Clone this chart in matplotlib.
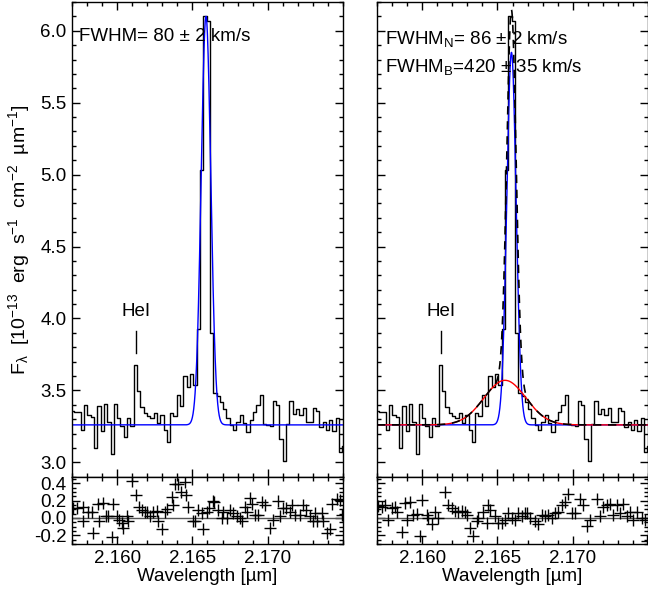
import numpy as np
import matplotlib
matplotlib.use('Agg')
from matplotlib import pyplot as plt
from matplotlib.ticker import MultipleLocator, FixedLocator

plt.rcParams['font.family'] = 'Liberation Sans'
plt.rcParams['mathtext.fontset'] = 'custom'
plt.rcParams['mathtext.rm'] = 'Liberation Sans'
plt.rcParams['mathtext.it'] = 'Liberation Sans:italic'
plt.rcParams['font.size'] = 13.5
plt.rcParams['axes.unicode_minus'] = False

# spectrum (bin centres in micron, flux in 1e-13 erg/s/cm2/um)
wave = [2.15703, 2.15725, 2.15747, 2.15769, 2.15791, 2.15813, 2.15835, 2.15857, 2.15879, 2.15901,
        2.15923, 2.15945, 2.15967, 2.15989, 2.16011, 2.16033, 2.16055, 2.16077, 2.16099, 2.16121,
        2.16143, 2.16165, 2.16187, 2.16209, 2.16231, 2.16253, 2.16275, 2.16297, 2.16319, 2.16341,
        2.16363, 2.16385, 2.16407, 2.16429, 2.16451, 2.16473, 2.16495, 2.16517, 2.16539, 2.16561,
        2.16583, 2.16605, 2.16627, 2.16649, 2.16671, 2.16693, 2.16715, 2.16737, 2.16759, 2.16781,
        2.16803, 2.16825, 2.16847, 2.16869, 2.16891, 2.16913, 2.16935, 2.16957, 2.16979, 2.17001,
        2.17023, 2.17045, 2.17067, 2.17089, 2.17111, 2.17133, 2.17155, 2.17177, 2.17199, 2.17221,
        2.17243, 2.17265, 2.17287, 2.17309, 2.17331, 2.17353, 2.17375, 2.17397, 2.17419, 2.17441,
        2.17463, 2.17485, 2.17507]
flux = [3.360, 3.353, 3.348, 3.227, 3.395, 3.330, 3.313, 3.097, 3.390, 3.220,
        3.406, 3.281, 3.057, 3.406, 3.306, 3.251, 3.174, 3.306, 3.255, 3.674,
        3.499, 3.383, 3.344, 3.325, 3.306, 3.344, 3.274, 3.330, 3.227, 3.143,
        3.344, 3.325, 3.469, 3.390, 3.599, 3.523, 3.611, 3.534, 3.930, 5.030,
        6.100, 6.070, 3.900, 3.483, 3.464, 3.418, 3.372, 3.306, 3.260, 3.227,
        3.283, 3.330, 3.271, 3.213, 3.297, 3.348, 3.395, 3.469, 3.267, 3.260,
        3.255, 3.423, 3.399, 3.162, 3.011, 3.267, 3.423, 3.337, 3.372, 3.330,
        3.376, 3.283, 3.278, 3.376, 3.360, 3.244, 3.283, 3.227, 3.297, 3.220,
        3.306, 3.074, 3.116]

# fit parameters
cont = 3.26
single_peak, single_cen, single_sig = 2.84, 2.16590, 0.00032
narrow_peak, narrow_cen, narrow_sig = 2.59, 2.16593, 0.00031
broad_peak, broad_cen, broad_sig = 0.31, 2.16550, 0.00139

# residuals
res1_wave = [2.15709, 2.15731, 2.15771, 2.15775, 2.15808, 2.15831, 2.15842, 2.15875, 2.15882, 2.15904,
             2.15926, 2.15941, 2.15963, 2.15970, 2.15997, 2.16014, 2.16030, 2.16041, 2.16063, 2.16074,
             2.16096, 2.16125, 2.16147, 2.16163, 2.16185, 2.16200, 2.16218, 2.16240, 2.16262, 2.16273,
             2.16296, 2.16318, 2.16333, 2.16362, 2.16373, 2.16384, 2.16406, 2.16422, 2.16451, 2.16457,
             2.16473, 2.16501, 2.16517, 2.16539, 2.16561, 2.16572, 2.16594, 2.16612, 2.16634, 2.16643,
             2.16672, 2.16694, 2.16705, 2.16727, 2.16749, 2.16772, 2.16794, 2.16816, 2.16827, 2.16849,
             2.16860, 2.16882, 2.16893, 2.16915, 2.16938, 2.16960, 2.16982, 2.17015, 2.17037, 2.17070,
             2.17081, 2.17099, 2.17121, 2.17148, 2.17159, 2.17181, 2.17214, 2.17237, 2.17254, 2.17281,
             2.17299, 2.17314, 2.17325, 2.17358, 2.17369, 2.17391, 2.17414, 2.17425, 2.17458, 2.17480,
             2.17491]
res1 = [0.119, 0.111, 0.130, -0.037, 0.074, 0.074, -0.178, 0.156, -0.037, 0.167,
        0.019, 0.019, -0.223, 0.156, 0.019, -0.019, -0.056, -0.111, 0.019, -0.037,
        0.427, 0.267, 0.130, 0.093, 0.074, 0.067, 0.019, 0.074, 0.082, -0.037,
        -0.130, 0.074, 0.104, 0.241, 0.149, 0.390, 0.390, 0.304, 0.416, 0.267,
        0.130, -0.037, -0.037, 0.093, 0.056, -0.130, 0.074, 0.111, 0.193, 0.186,
        0.093, 0.000, 0.074, 0.000, 0.093, 0.056, 0.019, 0.000, -0.037, 0.130,
        0.067, 0.230, 0.156, 0.037, 0.030, 0.186, 0.149, -0.111, -0.019, 0.193,
        0.019, 0.119, 0.111, 0.074, 0.149, 0.037, 0.037, 0.149, 0.093, 0.019,
        -0.030, 0.056, -0.030, 0.056, -0.037, -0.178, -0.130, 0.156, 0.223, 0.204,
        0.037]
res2_wave = [2.15709, 2.15731, 2.15753, 2.15775, 2.15797, 2.15820, 2.15831, 2.15864, 2.15886, 2.15897,
             2.15919, 2.15941, 2.15963, 2.15986, 2.15997, 2.16030, 2.16041, 2.16063, 2.16085, 2.16107,
             2.16152, 2.16174, 2.16196, 2.16218, 2.16240, 2.16262, 2.16284, 2.16296, 2.16318, 2.16340,
             2.16362, 2.16373, 2.16406, 2.16429, 2.16440, 2.16451, 2.16484, 2.16506, 2.16528, 2.16550,
             2.16572, 2.16594, 2.16617, 2.16639, 2.16661, 2.16683, 2.16694, 2.16716, 2.16749, 2.16772,
             2.16794, 2.16816, 2.16838, 2.16860, 2.16882, 2.16904, 2.16927, 2.16949, 2.16971, 2.16993,
             2.17015, 2.17048, 2.17071, 2.17093, 2.17115, 2.17159, 2.17181, 2.17203, 2.17226, 2.17248,
             2.17270, 2.17292, 2.17314, 2.17336, 2.17358, 2.17380, 2.17403, 2.17425, 2.17458, 2.17480,
             2.17491]
res2 = [0.137, 0.130, 0.149, -0.019, 0.111, 0.130, 0.074, -0.160, 0.167, -0.019,
        0.186, 0.037, 0.045, -0.204, 0.204, 0.037, 0.000, -0.074, 0.063, 0.000,
        0.297, 0.149, 0.111, 0.085, 0.074, 0.085, 0.063, 0.037, -0.111, -0.204,
        -0.037, 0.000, 0.074, -0.056, 0.149, 0.093, 0.019, -0.056, -0.056, -0.019,
        0.056, 0.000, -0.019, 0.056, 0.019, 0.056, 0.056, 0.000, -0.037, -0.074,
        0.037, 0.019, 0.037, 0.000, 0.056, 0.074, 0.149, 0.186, 0.278, 0.056,
        0.056, 0.223, 0.149, -0.093, -0.019, 0.223, 0.019, 0.130, 0.149, 0.160,
        0.037, 0.149, 0.056, 0.160, 0.019, 0.074, -0.019, 0.063, 0.000, -0.019,
        -0.271]

hei_wave = 2.16125
xlim = (2.157, 2.175)
xticks = [2.160, 2.165, 2.170]
ylim = (2.9, 6.2)
rlim = (-0.3, 0.475)


def gauss(x, a, c, s):
    return a * np.exp(-0.5 * ((x - c) / s) ** 2)


def style(ax, res=False):
    ax.set_xlim(*xlim)
    ax.tick_params(which='both', direction='in', top=True, right=True, width=1, color='k')
    ax.tick_params(which='major', length=6)
    ax.tick_params(which='minor', length=3)
    ax.xaxis.set_major_locator(FixedLocator(xticks))
    ax.xaxis.set_minor_locator(MultipleLocator(0.001))
    if res:
        ax.set_ylim(*rlim)
        ax.yaxis.set_major_locator(MultipleLocator(0.2))
        ax.yaxis.set_minor_locator(MultipleLocator(0.05))
        ax.xaxis.set_major_formatter(plt.FormatStrFormatter('%.3f'))
        ax.yaxis.set_major_formatter(plt.FormatStrFormatter('%.1f'))
        ax.set_xlabel('Wavelength [µm]', labelpad=1)
    else:
        ax.set_ylim(*ylim)
        ax.yaxis.set_major_locator(MultipleLocator(0.5))
        ax.yaxis.set_minor_locator(MultipleLocator(0.1))
        ax.yaxis.set_major_formatter(plt.FormatStrFormatter('%.1f'))
        ax.set_xticklabels([])
    for sp in ax.spines.values():
        sp.set_linewidth(1)
    ax.tick_params(axis='both', pad=4)


fig = plt.figure(figsize=(6.48, 5.99), dpi=100)
ax1 = fig.add_axes([0.1111, 0.2042, 0.4182, 0.7925])
ax1r = fig.add_axes([0.1111, 0.0918, 0.4182, 0.1124])
ax2 = fig.add_axes([0.5818, 0.2042, 0.4182, 0.7925])
ax2r = fig.add_axes([0.5818, 0.0918, 0.4182, 0.1124])

xx = np.linspace(xlim[0], xlim[1], 2000)

# left: single gaussian
ax1.step(wave, flux, where='mid', color='k', lw=1)
ax1.plot(xx, cont + gauss(xx, single_peak, single_cen, single_sig), color='#0000ff', lw=1)
ax1.text(0.027, 0.927, 'FWHM= 80 ± 2 km/s', transform=ax1.transAxes, va='center', ha='left')

# right: narrow + broad
ax2.step(wave, flux, where='mid', color='k', lw=1)
ax2.plot(xx, cont + gauss(xx, narrow_peak, narrow_cen, narrow_sig), color='#0000ff', lw=1)
ax2.plot(xx, cont + gauss(xx, broad_peak, broad_cen, broad_sig), color='#ff0000', lw=1)
ax2.plot(xx, cont + gauss(xx, narrow_peak, narrow_cen, narrow_sig) + gauss(xx, broad_peak, broad_cen, broad_sig),
         color='k', lw=1.2, ls=(0, (5, 4)))
ax2.text(0.03, 0.923, r'FWHM$_\mathrm{N}$= 86 ± 2 km/s', transform=ax2.transAxes, va='center', ha='left')
ax2.text(0.03, 0.862, r'FWHM$_\mathrm{B}$=420 ± 35 km/s', transform=ax2.transAxes, va='center', ha='left')

for ax in (ax1, ax2):
    ax.plot([hei_wave, hei_wave], [3.76, 3.91], color='k', lw=1)
    ax.text(hei_wave, 4.05, 'HeI', ha='center', va='center')
    style(ax)
ax2.set_yticklabels([])
ax1.set_ylabel(r'F$_\mathrm{λ}$  [10$^{-13}$  erg  s$^{-1}$  cm$^{-2}$  µm$^{-1}$]', labelpad=6,
               fontsize=14)

for ax, rw, rv in ((ax1r, res1_wave, res1), (ax2r, res2_wave, res2)):
    ax.axhline(0, color='#555555', lw=1)
    ax.plot(rw, rv, ls='none', marker='+', ms=8, mew=1, color='k')
    style(ax, res=True)
ax2r.set_yticklabels([])

fig.savefig('out.png', dpi=100)
